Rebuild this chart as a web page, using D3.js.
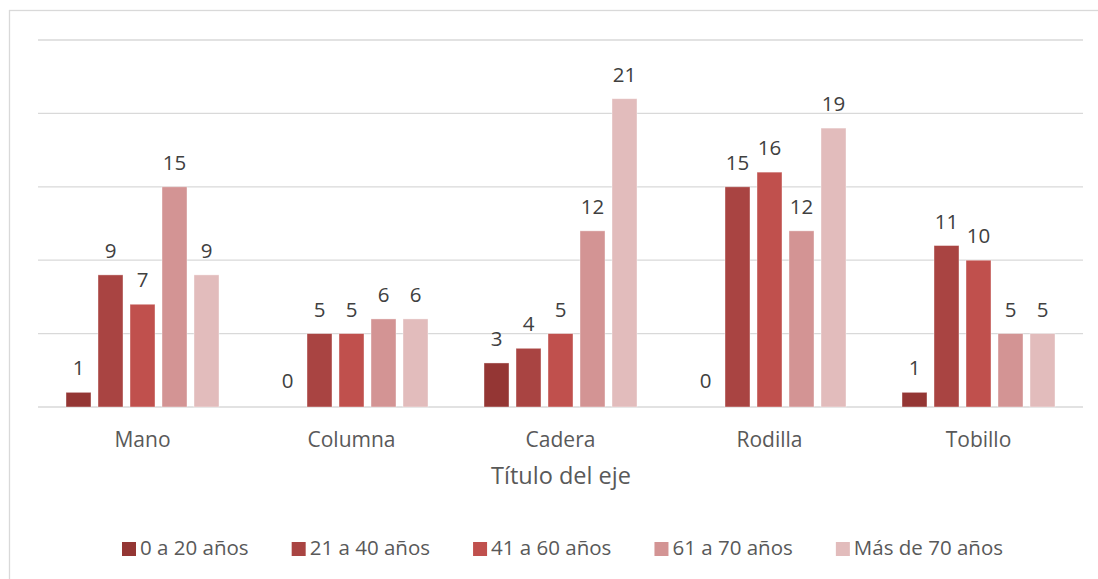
<!DOCTYPE html>
<html>
<head>
<meta charset="utf-8">
<script src="https://cdn.jsdelivr.net/npm/d3@7"></script>
<style>
  body { margin: 0; background: #fff; }
  svg { display: block; font-family: "Open Sans", sans-serif; }
</style>
</head>
<body>
<svg id="chart" width="1098" height="579"></svg>
<script>
const categories = ["Mano", "Columna", "Cadera", "Rodilla", "Tobillo"];
const seriesNames = ["0 a 20 años", "21 a 40 años", "41 a 60 años", "61 a 70 años", "Más de 70 años"];
const s0 = [1, 0, 3, 0, 1];
const s1 = [9, 5, 4, 15, 11];
const s2 = [7, 5, 5, 16, 10];
const s3 = [15, 6, 12, 12, 5];
const s4 = [9, 6, 21, 19, 5];
const yTicks = [0, 5, 10, 15, 20, 25];
const colors = ["#943634", "#a94442", "#c0504d", "#d39494", "#e2bcbc"];
const axisTitle = "Título del eje";

const series = [s0, s1, s2, s3, s4];

const svg = d3.select("#chart");

// outer chart border
svg.append("rect")
  .attr("x", 9.5).attr("y", 10.5)
  .attr("width", 1120).attr("height", 620)
  .attr("fill", "none").attr("stroke", "#d9d9d9").attr("stroke-width", 1.3);

const plotL = 38, plotR = 1083, plotT = 40, plotB = 407;

const x = d3.scaleBand().domain(categories).range([plotL, plotR]).padding(0);
const xs = d3.scaleBand().domain(d3.range(series.length))
  .range([-80, 80]).paddingInner(7 / 32).paddingOuter(7 / 64);
const y = d3.scaleLinear().domain([0, 25]).range([plotB, plotT]);

// gridlines
svg.append("g")
  .selectAll("line")
  .data(yTicks)
  .join("line")
    .attr("x1", plotL).attr("x2", plotR)
    .attr("y1", d => y(d)).attr("y2", d => y(d))
    .attr("stroke", "#d9d9d9").attr("stroke-width", 1.3);

// bars
const groups = svg.append("g")
  .selectAll("g")
  .data(series)
  .join("g")
    .attr("fill", (d, i) => colors[i]);

groups.selectAll("rect")
  .data((d, i) => d.map((v, j) => ({ v, j, i })))
  .join("rect")
    .attr("x", d => x(categories[d.j]) + x.bandwidth() / 2 + xs(d.i))
    .attr("y", d => y(d.v))
    .attr("width", xs.bandwidth())
    .attr("height", d => y(0) - y(d.v))
    .attr("stroke", "#fff").attr("stroke-opacity", 0.5).attr("stroke-width", 0.8);

// value labels
groups.selectAll("text")
  .data((d, i) => d.map((v, j) => ({ v, j, i })))
  .join("text")
    .attr("x", d => x(categories[d.j]) + x.bandwidth() / 2 + xs(d.i) + xs.bandwidth() / 2)
    .attr("y", d => y(d.v) - (d.v === 0 ? 19 : 17))
    .attr("text-anchor", "middle")
    .attr("fill", "#404040")
    .attr("font-size", 20.5)
    .text(d => d.v);

// category axis labels
const xAxis = d3.axisBottom(x).tickSize(0).tickPadding(0);
const gx = svg.append("g").attr("transform", `translate(0,${plotB})`).call(xAxis);
gx.select(".domain").remove();
gx.selectAll("text")
  .attr("dy", null)
  .attr("y", 40)
  .attr("font-family", "Open Sans, sans-serif")
  .attr("font-size", 21)
  .attr("fill", "#595959");

// axis title
svg.append("text")
  .attr("x", 561)
  .attr("y", 484)
  .attr("text-anchor", "middle")
  .attr("font-size", 23.5)
  .attr("fill", "#595959")
  .text(axisTitle);

// legend
const legend = svg.append("g");
const items = legend.selectAll("g")
  .data(seriesNames)
  .join("g");
items.append("rect")
  .attr("x", 0).attr("y", 542)
  .attr("width", 14).attr("height", 14)
  .attr("fill", (d, i) => colors[i]);
items.append("text")
  .attr("x", 18).attr("y", 555)
  .attr("font-size", 20.5)
  .attr("fill", "#595959")
  .text(d => d);

const widths = [];
items.each(function () { widths.push(this.getBBox().width); });
const legL = 122, legR = 1003;
const gap = (legR - legL - d3.sum(widths)) / (widths.length - 1);
let cx = legL;
items.attr("transform", (d, i) => {
  const t = `translate(${cx},0)`;
  cx += widths[i] + gap;
  return t;
});
</script>
</body>
</html>
